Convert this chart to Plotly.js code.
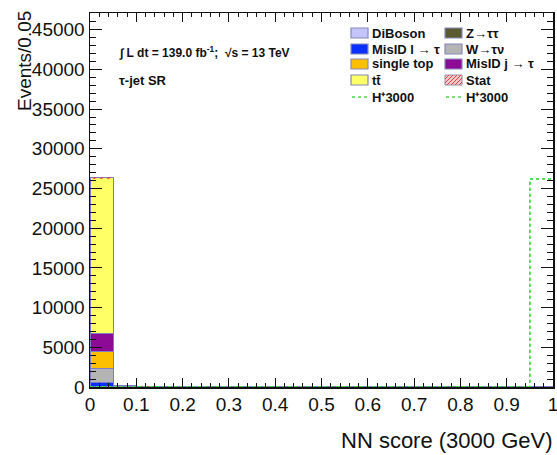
<!DOCTYPE html>
<html>
<head>
<meta charset="utf-8">
<script src="https://cdn.plot.ly/plotly-3.0.1.min.js"></script>
<style>html,body{margin:0;padding:0;background:#fff;}#plot{width:557px;height:455px;}</style>
</head>
<body>
<div id="plot"></div>
<script>
// ---- data ----
const binEdges = [0,0.05,0.1,0.15,0.2,0.25,0.3,0.35,0.4,0.45,0.5,0.55,0.6,0.65,0.7,0.75,0.8,0.85,0.9,0.95,1.0];
const binCenters = [0.025,0.075,0.125,0.175,0.225,0.275,0.325,0.375,0.425,0.475,0.525,0.575,0.625,0.675,0.725,0.775,0.825,0.875,0.925,0.975];
const diboson   = [40, 4, 2, 1, 1, 1, 0, 0, 0, 0, 0, 0, 0, 0, 0, 0, 0, 0, 0, 0];
const ztautau   = [60, 5, 2, 1, 1, 0, 0, 0, 0, 0, 0, 0, 0, 0, 0, 0, 0, 0, 0, 0];
const misidL    = [500, 20, 8, 5, 3, 2, 2, 1, 1, 1, 1, 1, 0, 0, 0, 0, 0, 0, 0, 0];
const wtaunu    = [1780, 25, 10, 6, 4, 3, 2, 2, 1, 1, 1, 1, 1, 0, 0, 0, 0, 0, 0, 0];
const singletop = [2140, 15, 6, 4, 3, 2, 1, 1, 1, 1, 1, 0, 0, 0, 0, 0, 0, 0, 0, 0];
const misidJ    = [2160, 20, 8, 5, 3, 2, 2, 1, 1, 1, 1, 0, 0, 0, 0, 0, 0, 0, 0, 0];
const ttbar     = [19650, 60, 25, 15, 10, 8, 6, 5, 4, 3, 3, 2, 2, 2, 1, 1, 1, 1, 1, 1];
const statErr   = [160, 10, 6, 4, 3, 3, 2, 2, 2, 1, 1, 1, 1, 1, 1, 1, 1, 1, 1, 1];
const signal    = [0, 0, 0, 0, 0, 0, 0, 0, 0, 0, 0, 0, 0, 0, 0, 0, 0, 0, 0, 26200];

const yTickVals  = [0,5000,10000,15000,20000,25000,30000,35000,40000,45000];
const xTickVals  = [0,0.1,0.2,0.3,0.4,0.5,0.6,0.7,0.8,0.9,1];

const legendCol1 = ["DiBoson", "MisID l \u2192 \u03c4", "single top", "tt\u0304", "H\u207a3000"];
const legendCol2 = ["Z\u2192\u03c4\u03c4", "W\u2192\u03c4\u03bd", "MisID j \u2192 \u03c4", "Stat", "H\u207a3000"];
const lumiText = "\u222b L dt = 139.0 fb<sup>-1</sup>;  \u221as = 13 TeV";
const regionText = "\u03c4-jet SR";
const xTitle = "NN score (3000 GeV)";
const yTitle = "Events/0.05";

// ---- styles ----
const colors = {
  diboson: '#c4c4f8', ztautau: '#5a5a30', misidL: '#0a30ff', wtaunu: '#b4b4b4',
  singletop: '#fcc000', misidJ: '#8c0a96', ttbar: '#ffff66', signal: '#44dd44'
};
const outline = '#7c7cc8';
const FONT = 'Liberation Sans, Arial';

function barTrace(name, vals, color) {
  return {type: 'bar', name: name, x: binCenters, y: vals, width: 0.05,
          marker: {color: color, line: {color: outline, width: 1}}, showlegend: false, hoverinfo: 'skip'};
}
const traces = [
  barTrace('DiBoson', diboson, colors.diboson),
  barTrace('Z', ztautau, colors.ztautau),
  barTrace('MisID l', misidL, colors.misidL),
  barTrace('W', wtaunu, colors.wtaunu),
  barTrace('single top', singletop, colors.singletop),
  barTrace('MisID j', misidJ, colors.misidJ),
  barTrace('ttbar', ttbar, colors.ttbar)
];
// stat band over the stack
const total = binCenters.map((_, i) => diboson[i]+ztautau[i]+misidL[i]+wtaunu[i]+singletop[i]+misidJ[i]+ttbar[i]);
traces.push({type: 'bar', name: 'Stat', x: binCenters, y: statErr.map(e => 2*e), base: total.map((t, i) => t - statErr[i]),
  width: 0.05, marker: {color: 'rgba(255,255,255,0)', line: {width: 0}, pattern: {shape: '/', fgcolor: '#e04040', size: 5}},
  showlegend: false, hoverinfo: 'skip'});
// signal (drawn twice as in reference)
const sigY = signal.concat([signal[signal.length-1]]);
for (let k = 0; k < 2; k++) {
  traces.push({type: 'scatter', mode: 'lines', x: binEdges, y: sigY, line: {shape: 'hv', color: colors.signal, dash: 'dot', width: 1.5},
    showlegend: false, hoverinfo: 'skip'});
}

// ---- manual legend ----
const L = 90, T = 13, W = 463, H = 374;
const px = x => (x - L) / W;
const py = y => (T + H - y) / H;
const rowY = [33, 49, 64, 80, 97];
const col1Fill = [colors.diboson, colors.misidL, colors.singletop, colors.ttbar, null];
const col2Fill = [colors.ztautau, colors.wtaunu, colors.misidJ, 'stat', null];
const shapes = [];
const annotations = [];
function addCol(labels, fills, bx, tx) {
  labels.forEach((lab, i) => {
    const yc = rowY[i];
    const f = fills[i];
    if (f === null) {
      shapes.push({type: 'line', xref: 'paper', yref: 'paper', x0: px(bx+1), x1: px(bx+17), y0: py(yc), y1: py(yc),
        line: {color: colors.signal, dash: 'dot', width: 1.5}});
    } else if (f === 'stat') {
      shapes.push({type: 'rect', xref: 'paper', yref: 'paper', x0: px(bx), x1: px(bx+17), y0: py(yc+5), y1: py(yc-5),
        fillcolor: '#f8c8c8', line: {color: '#9090b0', width: 1}});
      for (let d = -6; d <= 17; d += 4) {
        const xa = Math.max(bx, bx + d), xb = Math.min(bx + 17, bx + d + 10);
        const ya = yc + 5 - (xa - (bx + d)), yb = yc + 5 - (xb - (bx + d));
        if (xb > xa) shapes.push({type: 'line', xref: 'paper', yref: 'paper', x0: px(xa), x1: px(xb), y0: py(ya), y1: py(yb),
          line: {color: '#e04848', width: 1}});
      }
    } else {
      shapes.push({type: 'rect', xref: 'paper', yref: 'paper', x0: px(bx), x1: px(bx+17), y0: py(yc+5), y1: py(yc-5),
        fillcolor: f, line: {color: '#8888bb', width: 1.2}});
    }
    annotations.push({xref: 'paper', yref: 'paper', x: px(tx), y: py(yc), xanchor: 'left', yanchor: 'middle',
      text: '<b>' + lab + '</b>', showarrow: false, font: {family: FONT, size: 13, color: '#111'}});
  });
}
addCol(legendCol1, col1Fill, 351, 370);
addCol(legendCol2, col2Fill, 445, 464);

annotations.push({xref: 'paper', yref: 'paper', x: px(117), y: py(52), xanchor: 'left', yanchor: 'middle',
  text: '<b>' + lumiText + '</b>', showarrow: false, font: {family: FONT, size: 12, color: '#111'}});
annotations.push({xref: 'paper', yref: 'paper', x: px(117), y: py(80), xanchor: 'left', yanchor: 'middle',
  text: '<b>' + regionText + '</b>', showarrow: false, font: {family: FONT, size: 13, color: '#111'}});
annotations.push({xref: 'paper', yref: 'paper', x: px(25), y: py(9), xanchor: 'center', yanchor: 'top', textangle: -90,
  text: yTitle, showarrow: false, font: {family: FONT, size: 19, color: '#111'}});
annotations.push({xref: 'paper', yref: 'paper', x: px(555), y: py(441), xanchor: 'right', yanchor: 'middle',
  text: xTitle, showarrow: false, font: {family: FONT, size: 22, color: '#111'}});

const layout = {
  width: 557, height: 455,
  margin: {l: L, r: 557 - L - W, t: T, b: 455 - T - H},
  paper_bgcolor: '#fff', plot_bgcolor: '#fff',
  barmode: 'stack', bargap: 0,
  showlegend: false,
  xaxis: {range: [0, 1], tickvals: xTickVals, ticks: 'inside', ticklen: 9, tickwidth: 1, tickcolor: '#111',
    showline: true, linecolor: '#111', linewidth: 1.5, mirror: 'ticks', showgrid: false, zeroline: false,
    ticklabeloverflow: 'allow',
    minor: {dtick: 0.02, ticks: 'inside', ticklen: 4, tickcolor: '#111', showgrid: false},
    tickfont: {family: FONT, size: 19, color: '#111'}},
  yaxis: {range: [0, 47100], tickvals: yTickVals, tickformat: 'd', ticks: 'inside', ticklen: 12, tickwidth: 1, tickcolor: '#111',
    showline: true, linecolor: '#111', linewidth: 1.5, mirror: 'ticks', showgrid: false, zeroline: false,
    ticklabeloverflow: 'allow',
    minor: {dtick: 1000, ticks: 'inside', ticklen: 6, tickcolor: '#111', showgrid: false},
    tickfont: {family: FONT, size: 19, color: '#111'}, ticklabelstandoff: 0},
  shapes: shapes,
  annotations: annotations
};
Plotly.newPlot('plot', traces, layout, {staticPlot: true, displayModeBar: false});
</script>
</body>
</html>
